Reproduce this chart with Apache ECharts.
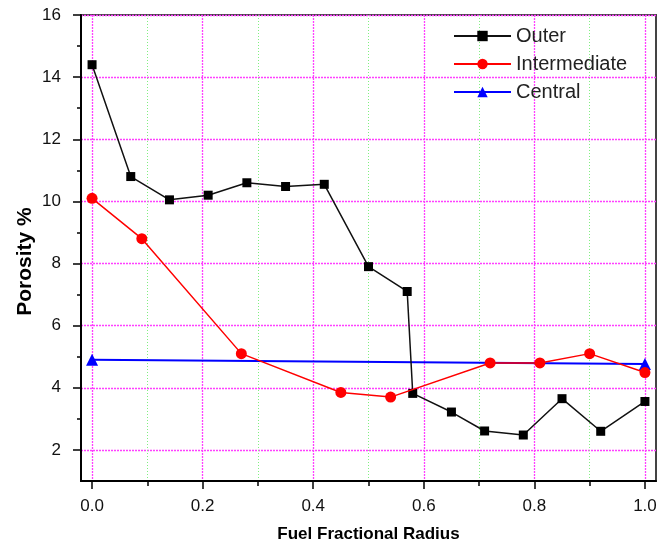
<!DOCTYPE html>
<html>
<head>
<meta charset="utf-8">
<script src="https://cdn.jsdelivr.net/npm/echarts@6/dist/echarts.min.js"></script>
<style>html,body{margin:0;padding:0;background:#fff;}#c{width:668px;height:545px;}</style>
</head>
<body>
<div id="c"></div>
<script>
// ---- data ----
const outerX = [0, 0.07, 0.14, 0.21, 0.28, 0.35, 0.42, 0.50, 0.57, 0.58, 0.65, 0.71, 0.78, 0.85, 0.92, 1.0];
const outerY = [14.4, 10.8, 10.05, 10.2, 10.6, 10.48, 10.55, 7.9, 7.1, 3.82, 3.22, 2.61, 2.48, 3.65, 2.6, 3.56];
const interX = [0, 0.09, 0.27, 0.45, 0.54, 0.72, 0.81, 0.90, 1.0];
const interY = [10.1, 8.8, 5.1, 3.85, 3.7, 4.8, 4.8, 5.1, 4.49];
const centralX = [0, 1.0];
const centralY = [4.9, 4.77];
const seriesNames = ['Outer', 'Intermediate', 'Central'];
const xTicks = { min: 0, max: 1, step: 0.2 };
const yTicks = { min: 2, max: 16, step: 2 };
const xName = 'Fuel Fractional Radius';
const yName = 'Porosity %';

// ---- layout ----
const W = 668, H = 545;
const L = 81, R = 656, T = 15, B = 481;
const xMin = -0.02, xMax = 1.02, yMin = 1, yMax = 16;
const px = v => L + (v - xMin) / (xMax - xMin) * (R - L);
const py = v => B - (v - yMin) / (yMax - yMin) * (B - T);

const zip = (a, b) => a.map((v, i) => [v, b[i]]);
const font = '"Liberation Sans", Arial, sans-serif';
const magenta = { color: '#ff40ff', type: [2, 1], width: 1.3 };
const green = { color: '#80f080', type: [1, 2], width: 1 };

const chart = echarts.init(document.getElementById('c'), null, { renderer: 'canvas' });
chart.setOption({
  animation: false,
  backgroundColor: '#fff',
  grid: [
    { left: L, right: W - R, top: T, bottom: H - B, outerBoundsMode: 'none', containLabel: false,
      show: true, borderColor: '#444', borderWidth: 2, backgroundColor: 'transparent' },
    { left: px(xTicks.min), right: W - px(xTicks.max), top: T, bottom: H - B, outerBoundsMode: 'none', containLabel: false },
    { left: L, right: W - R, top: T, bottom: H - py(yTicks.min), outerBoundsMode: 'none', containLabel: false }
  ],
  xAxis: [
    { gridIndex: 0, type: 'value', min: xMin, max: xMax, z: 5,
      axisLine: { show: true, onZero: false, lineStyle: { color: '#000', width: 2 } },
      axisTick: { show: false }, axisLabel: { show: false }, splitLine: { show: false },
      name: xName, nameLocation: 'middle', nameGap: 45,
      nameTextStyle: { fontFamily: font, fontWeight: 'bold', fontSize: 17, color: '#000' } },
    { gridIndex: 1, type: 'value', min: xTicks.min, max: xTicks.max, interval: xTicks.step,
      axisLine: { show: false, onZero: false },
      axisTick: { show: true, inside: false, length: 8, lineStyle: { color: '#000', width: 1.5 } },
      minorTick: { show: true, splitNumber: 2, length: 5, lineStyle: { color: '#000', width: 1.5 } },
      splitLine: { show: true, lineStyle: magenta },
      minorSplitLine: { show: true, lineStyle: green },
      axisLabel: { show: true, margin: 17, fontFamily: font, fontSize: 17, color: '#111',
        formatter: v => v.toFixed(1) } },
    { gridIndex: 2, type: 'value', show: false, min: 0, max: 1 }
  ],
  yAxis: [
    { gridIndex: 0, type: 'value', min: yMin, max: yMax, z: 5,
      axisLine: { show: true, onZero: false, lineStyle: { color: '#000', width: 2 } },
      axisTick: { show: false }, axisLabel: { show: false }, splitLine: { show: false },
      name: yName, nameLocation: 'middle', nameGap: 45, nameRotate: 90,
      nameTextStyle: { fontFamily: font, fontWeight: 'bold', fontSize: 21, color: '#000', padding: [0, 27, 0, 0] } },
    { gridIndex: 1, type: 'value', show: false, min: 0, max: 1 },
    { gridIndex: 2, type: 'value', min: yTicks.min, max: yTicks.max, interval: yTicks.step,
      axisLine: { show: false, onZero: false },
      axisTick: { show: true, inside: false, length: 8, lineStyle: { color: '#000', width: 1.5 } },
      minorTick: { show: true, splitNumber: 2, length: 4, lineStyle: { color: '#000', width: 1.5 } },
      splitLine: { show: true, lineStyle: magenta },
      minorSplitLine: { show: false },
      axisLabel: { show: true, margin: 20, fontFamily: font, fontSize: 17, color: '#111' } }
  ],
  legend: {
    orient: 'vertical', left: 453, top: 26, padding: 0, itemWidth: 57, itemHeight: 13, itemGap: 8,
    textStyle: { fontFamily: font, fontSize: 20, color: '#222' },
    data: seriesNames
  },
  series: [
    { name: seriesNames[0], type: 'line', xAxisIndex: 0, yAxisIndex: 0, data: zip(outerX, outerY),
      symbol: 'rect', symbolSize: 9, lineStyle: { color: '#111', width: 1.5 },
      itemStyle: { color: '#000' }, z: 3 },
    { name: seriesNames[1], type: 'line', xAxisIndex: 0, yAxisIndex: 0, data: zip(interX, interY),
      symbol: 'circle', symbolSize: 11, lineStyle: { color: '#ff0000', width: 1.5 },
      itemStyle: { color: '#ff0000' }, z: 4 },
    { name: seriesNames[2], type: 'line', xAxisIndex: 0, yAxisIndex: 0, data: zip(centralX, centralY),
      symbol: 'triangle', symbolSize: 12, lineStyle: { color: '#0000ff', width: 2 },
      itemStyle: { color: '#0000ff' }, z: 2 }
  ]
});
</script>
</body>
</html>
